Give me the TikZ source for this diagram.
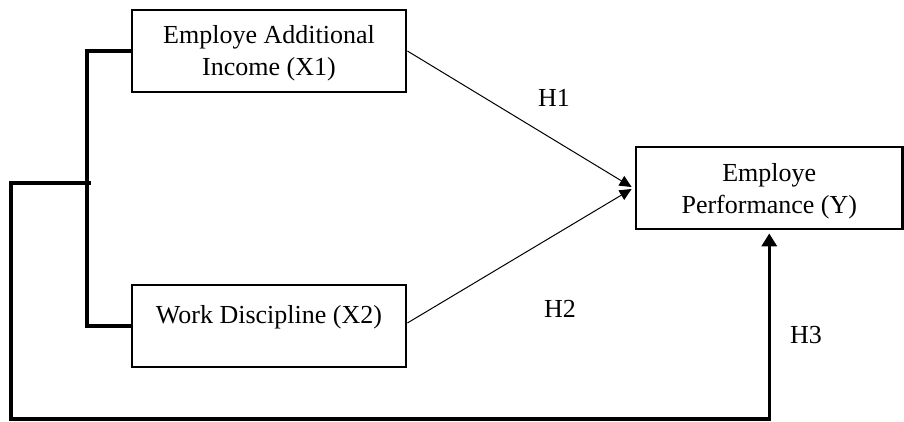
\documentclass[tikz,border=0pt]{standalone}
\usepackage{fontspec}
\setmainfont{Liberation Serif}
\usetikzlibrary{arrows.meta}
\begin{document}
\begin{tikzpicture}[x=1pt,y=-1pt,
  every node/.style={font=\fontsize{26}{32}\selectfont},
  box/.style={draw,line width=2.8pt,minimum width=274pt,minimum height=82pt,inner sep=0pt,align=center},
  twoline/.style={text height=60pt,text depth=10pt},
  thick line/.style={line width=3.5pt},
  thin arrow/.style={line width=1pt,-{Triangle[width=11pt,length=12pt]}},
  big arrow/.style={line width=3.5pt,-{Triangle[width=15pt,length=13pt]}},
  hlabel/.style={anchor=base,inner sep=0pt}]
\useasboundingbox (0,0) rectangle (904,422);
\node[box,twoline] (x1) at (269,51) {Employe Additional\\Income (X1)};
\node[box,text height=17pt,text depth=23pt] (x2) at (269,326) {Work Discipline (X2)};
\node[box,twoline,minimum width=266.5pt] (y) at (769.25,188) {Employe\\Performance (Y)};
% bracket joining X1 and X2
\draw[thick line] (x1.west) -- (87,51) -- (87,326) -- (x2.west);
\coordinate (j) at (91,183);
\draw[big arrow] (j) -- (11,183) -- (11,419) -| ([yshift=-3pt]y.south);
% hypotheses
\draw[thin arrow] (x1.east) -- ([xshift=-3pt,yshift=1pt]y.west);
\draw[thin arrow] ([yshift=3pt]x2.east) -- ([xshift=-3pt,yshift=-1pt]y.west);
\node[hlabel] (h1) at (554,107) {H1};
\node[hlabel] (h2) at (560,317) {H2};
\node[hlabel] (h3) at (806,343) {H3};
\end{tikzpicture}
\end{document}
